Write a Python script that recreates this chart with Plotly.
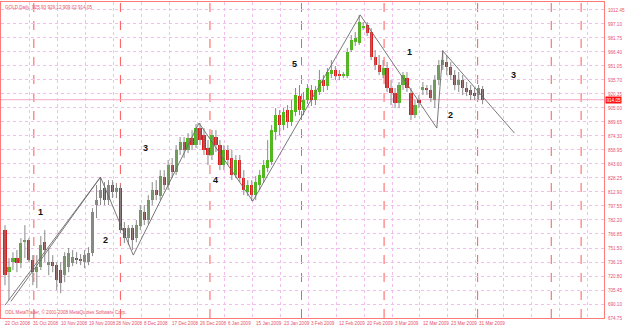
import plotly.graph_objects as go

# ---------------- data ----------------
chart_title = "GOLD,Daily  925.93 929.12 909.02 914.05"
copyright_text = "ODL MetaTrader, \u00a9 2001-2008 MetaQuotes Software Corp."

opens = [771.1, 725.0, 736.0, 740.4, 734.9, 757.9, 760.1, 738.2, 725.0, 730.5,
         757.9, 732.7, 736.0, 732.7, 727.2, 721.7, 730.5, 734.9, 740.4, 739.3,
         736.0, 736.0, 745.9, 798.5, 806.2, 817.2, 804.0, 820.5, 812.8, 817.2,
         773.3, 762.3, 773.3, 762.3, 775.5, 790.8, 782.1, 804.0, 815.0, 808.4,
         829.2, 820.5, 842.4, 834.7, 858.9, 867.6, 858.9, 872.0, 864.3, 883.0,
         875.3, 861.0, 853.4, 873.1, 864.3, 842.4, 858.9, 850.1, 831.4, 847.9,
         828.1, 812.8, 820.5, 809.5, 820.5, 828.1, 839.1, 845.7, 878.6, 897.2,
         886.3, 902.7, 889.6, 900.5, 918.1, 902.7, 913.7, 924.7, 913.7, 922.5,
         935.6, 929.1, 942.2, 946.6, 942.2, 940.0, 940.0, 968.6, 977.3, 976.2,
         992.7, 996.0, 988.3, 960.9, 952.1, 941.1, 948.8, 926.9, 921.4, 910.4,
         930.2, 937.8, 921.4, 897.2, 913.7, 924.7, 926.9, 924.7, 913.7, 935.6,
         952.1, 955.4, 949.9, 941.1, 930.2, 935.6, 926.9, 924.7, 921.4, 919.2,
         925.93]
highs = [776.6, 740.4, 746.9, 749.2, 762.3, 776.6, 762.3, 743.7, 743.7, 764.5,
         771.1, 751.4, 743.7, 736.0, 736.0, 746.9, 751.4, 749.2, 746.9, 744.8,
         749.2, 752.4, 795.2, 820.5, 829.2, 823.8, 825.9, 825.9, 822.7, 820.5,
         779.9, 776.6, 776.6, 782.1, 798.5, 798.5, 809.5, 823.8, 825.9, 836.9,
         836.9, 847.9, 850.1, 864.3, 873.1, 873.1, 877.5, 880.8, 887.4, 888.5,
         883.0, 869.8, 880.8, 880.8, 869.8, 864.3, 864.3, 858.9, 853.4, 853.4,
         836.9, 825.9, 825.9, 830.3, 836.9, 847.9, 869.8, 886.3, 904.9, 902.7,
         904.9, 908.2, 913.7, 926.9, 930.2, 922.5, 931.3, 930.2, 929.1, 946.6,
         941.1, 948.8, 957.6, 951.0, 946.6, 944.4, 970.7, 985.0, 988.3, 1007.0,
         999.3, 999.3, 992.7, 968.6, 963.1, 957.6, 955.4, 935.6, 926.9, 933.5,
         944.4, 944.4, 926.9, 913.7, 919.2, 933.5, 930.2, 930.2, 941.1, 957.6,
         968.6, 963.1, 955.4, 946.6, 944.4, 941.1, 933.5, 930.2, 926.9, 930.2,
         929.12]
lows = [710.7, 694.3, 727.2, 725.0, 729.4, 740.4, 736.0, 710.7, 707.5, 727.2,
        736.0, 721.7, 725.0, 705.3, 702.0, 714.0, 725.0, 731.6, 733.8, 732.7,
        729.4, 732.7, 742.6, 784.3, 798.5, 798.5, 798.5, 806.2, 806.2, 767.8,
        756.8, 754.6, 749.2, 757.9, 771.1, 776.6, 777.7, 798.5, 804.0, 804.0,
        815.0, 815.0, 828.1, 831.4, 853.4, 850.1, 855.6, 858.9, 861.0, 864.3,
        853.4, 842.4, 847.9, 856.7, 836.9, 836.9, 842.4, 825.9, 828.1, 823.8,
        809.5, 808.4, 802.9, 804.0, 815.0, 823.8, 834.7, 842.4, 869.8, 875.3,
        880.8, 883.0, 885.2, 896.1, 897.2, 897.2, 909.3, 907.1, 908.2, 919.2,
        922.5, 924.7, 937.8, 935.6, 935.6, 937.8, 937.8, 966.4, 972.9, 974.0,
        990.5, 983.9, 957.6, 946.6, 941.1, 937.8, 922.5, 908.2, 904.9, 904.9,
        924.7, 922.5, 891.8, 894.0, 904.9, 919.2, 919.2, 911.5, 904.9, 930.2,
        946.6, 941.1, 935.6, 924.7, 922.5, 919.2, 918.1, 913.7, 913.7, 913.7,
        909.02]
closes = [721.7, 730.5, 740.4, 734.9, 756.8, 760.1, 738.2, 725.0, 730.5, 754.6,
          749.2, 736.0, 731.6, 716.2, 712.9, 742.6, 745.9, 741.5, 738.2, 737.1,
          743.7, 745.9, 790.8, 804.0, 815.0, 804.0, 820.5, 812.8, 817.2, 771.1,
          762.3, 773.3, 760.1, 776.6, 793.0, 782.1, 804.0, 815.0, 809.5, 830.3,
          820.5, 842.4, 834.7, 858.9, 867.6, 858.9, 872.0, 864.3, 883.0, 869.8,
          858.9, 853.4, 875.3, 864.3, 842.4, 858.9, 847.9, 831.4, 847.9, 828.1,
          815.0, 820.5, 809.5, 823.8, 831.4, 842.4, 847.9, 880.8, 897.2, 886.3,
          900.5, 889.6, 902.7, 919.2, 902.7, 913.7, 926.9, 913.7, 924.7, 935.6,
          929.1, 944.4, 946.6, 940.0, 940.0, 942.2, 966.4, 979.5, 981.7, 999.3,
          994.9, 987.2, 960.9, 952.1, 944.4, 948.8, 926.9, 921.4, 910.4, 930.2,
          941.1, 926.9, 897.2, 908.2, 910.4, 928.0, 924.7, 915.9, 935.6, 952.1,
          957.6, 949.9, 941.1, 930.2, 935.6, 926.9, 922.5, 919.2, 918.1, 926.9,
          914.05]

date_labels = ["22 Oct 2008", "31 Oct 2008", "10 Nov 2008", "19 Nov 2008",
               "28 Nov 2008", "8 Dec 2008", "17 Dec 2008", "26 Dec 2008",
               "6 Jan 2009", "15 Jan 2009", "23 Jan 2009", "3 Feb 2009",
               "12 Feb 2009", "20 Feb 2009", "3 Mar 2009", "12 Mar 2009",
               "23 Mar 2009", "31 Mar 2009"]
bars_per_label = 7

price_labels = ["1012.45", "997.10", "981.75", "966.40", "951.05", "935.70",
                "920.35", "905.00", "889.65", "874.30", "858.95", "843.60",
                "828.25", "812.90", "797.55", "782.20", "766.85", "751.50",
                "736.15", "720.80", "705.45", "690.10", "674.75"]

# month separators (bar index)
separators = [7.25, 29.0, 51.5, 74.5, 95.25, 118.75, 137.25, 144.75]

# Elliott wave drawing: pivots (bar index, price)
wave_x = [0.0, 24.0, 32.25, 48.75, 62.25, 89.25, 108.5, 110.0, 128.0]
wave_y = [688.8, 829.2, 743.7, 888.5, 802.9, 1007.0, 883.0, 967.5, 877.5]
wave2_x = [1.5, 24.0]
wave2_y = [693.0, 829.2]

label_text = ["1", "2", "3", "4", "5", "1", "2", "3"]
label_x = [9.0, 25.25, 35.25, 53.0, 72.75, 101.75, 112.0, 127.75]
label_y = [790.8, 760.1, 861.0, 825.9, 953.2, 966.4, 897.3, 941.1]

last_price = closes[-1]

# ---------------- figure ----------------
FONT = "Liberation Sans"
TXT = "#e8506a"
GRID = "#f3bdf0"
FRAME = "#ff7a7a"
UP = "#4cbb17"
DN = "#e01b1b"
WICK = "#8a8a8a"

n = len(opens)
bars = list(range(n))

fig = go.Figure()

wx, wy = [], []
for i in bars:
    wx += [i, i, None]
    wy += [lows[i], highs[i], None]
fig.add_trace(go.Scatter(x=wx, y=wy, mode="lines",
                         line=dict(color=WICK, width=1), hoverinfo="skip"))

body_base = [min(o, c) for o, c in zip(opens, closes)]
body_len = [max(abs(c - o), 0.9) for o, c in zip(opens, closes)]
body_col = [UP if c >= o else DN for o, c in zip(opens, closes)]
fig.add_trace(go.Bar(x=bars, base=body_base, y=body_len, width=0.8,
                     marker=dict(color=body_col, line=dict(width=0))))

fig.add_trace(go.Scatter(x=wave_x, y=wave_y, mode="lines",
                         line=dict(color="#6a6a6a", width=0.9), hoverinfo="skip"))
fig.add_trace(go.Scatter(x=wave2_x, y=wave2_y, mode="lines",
                         line=dict(color="#6a6a6a", width=0.9), hoverinfo="skip"))

shapes = []
for s in separators:
    shapes.append(dict(type="line", xref="x", yref="paper", x0=s, x1=s, y0=0, y1=1,
                       line=dict(color="#ff5a5a", width=1, dash="dash"), layer="below"))
shapes.append(dict(type="line", xref="paper", yref="y", x0=0, x1=1,
                   y0=last_price, y1=last_price,
                   line=dict(color="#f7a8c8", width=1), layer="below"))
fig.update_layout(shapes=shapes)

ann = []
for k, t in enumerate(date_labels):
    ann.append(dict(x=k * bars_per_label - 0.5, y=0, xref="x", yref="paper",
                    text=t, showarrow=False, xanchor="left", yanchor="top",
                    yshift=-1, font=dict(family=FONT, size=4.6, color=TXT)))
for t, x, y in zip(label_text, label_x, label_y):
    ann.append(dict(x=x, y=y, xref="x", yref="y", text="<b>%s</b>" % t,
                    showarrow=False, font=dict(family=FONT, size=9, color="#111111")))
ann.append(dict(x=0, y=1, xref="paper", yref="paper", text=chart_title,
                showarrow=False, xanchor="left", yanchor="top", xshift=2, yshift=-1,
                font=dict(family=FONT, size=4.6, color=TXT)))
ann.append(dict(x=0, y=0, xref="paper", yref="paper", text=copyright_text,
                showarrow=False, xanchor="left", yanchor="bottom", xshift=2, yshift=1,
                font=dict(family=FONT, size=4.6, color=TXT)))
ann.append(dict(x=1, y=last_price, xref="paper", yref="y", text="%.2f" % last_price,
                showarrow=False, xanchor="left", yanchor="middle", xshift=1,
                bgcolor="#ff1010", borderpad=0.5,
                font=dict(family=FONT, size=4.6, color="#ffffff")))
fig.update_layout(annotations=ann)

fig.update_layout(
    width=625, height=326,
    margin=dict(l=0, r=19, t=2, b=8),
    paper_bgcolor="#ffffff", plot_bgcolor="#ffffff",
    showlegend=False, barmode="overlay", bargap=0,
    xaxis=dict(range=[-1, 150.5], showticklabels=False, ticks="",
               tickmode="array",
               tickvals=[k * bars_per_label - 0.75 for k in range(22)],
               showgrid=True, gridcolor=GRID, griddash="dot", gridwidth=1,
               zeroline=False, showline=True, linecolor=FRAME, linewidth=1,
               mirror=True, fixedrange=True),
    yaxis=dict(range=[674.75, 1021.2], side="right", tickmode="array",
               tickvals=[float(v) for v in price_labels], ticktext=price_labels,
               tickfont=dict(family=FONT, size=4.6, color=TXT), ticks="",
               showgrid=True, gridcolor=GRID, griddash="dot", gridwidth=1,
               zeroline=False, showline=True, linecolor=FRAME, linewidth=1,
               mirror=True, fixedrange=True, ticklabelstandoff=2),
)

fig.write_html("out.html")
